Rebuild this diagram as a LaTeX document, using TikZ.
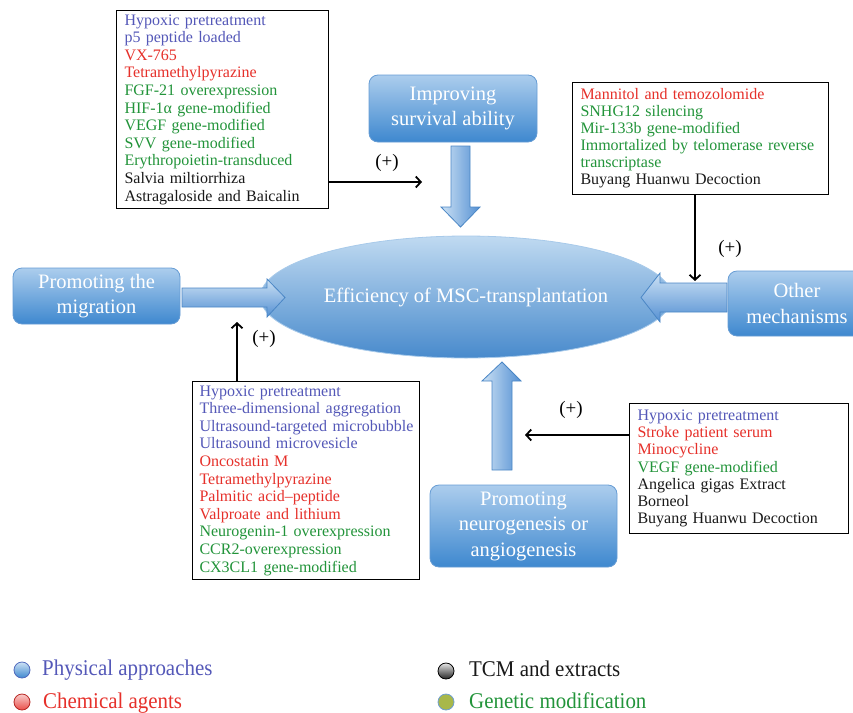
\documentclass[tikz,border=0pt]{standalone}
\usepackage{fontspec}
\setmainfont{Liberation Serif}
\newfontfamily\legendfont[FakeStretch=0.93]{Liberation Serif}
\usetikzlibrary{arrows.meta, positioning, shapes.geometric, calc}
\hyphenpenalty=10000
\exhyphenpenalty=10000

\definecolor{physc}{RGB}{84,88,184}
\definecolor{chemc}{RGB}{230,48,42}
\definecolor{genec}{RGB}{34,148,58}
\definecolor{tcmc}{RGB}{25,25,25}
\definecolor{boxtop}{RGB}{172,205,237}
\definecolor{boxbot}{RGB}{62,136,207}
\definecolor{boxline}{RGB}{102,156,212}
\definecolor{elltop}{RGB}{192,218,241}
\definecolor{ellbot}{RGB}{72,138,204}
\definecolor{arrlight}{RGB}{204,225,244}
\definecolor{arrdark}{RGB}{84,144,211}
\definecolor{arrline}{RGB}{74,134,197}

\tikzset{
  stepbox/.style={rounded corners=9pt, draw=boxline, line width=0.8pt, top color=boxtop, bottom color=boxbot, text=white, align=center, inner sep=2pt, font=\fontsize{20.5}{25.5}\selectfont},
  listbox/.style={draw=black, line width=1pt, fill=white, anchor=north west, align=left, inner xsep=8pt, inner ysep=2pt, font=\fontsize{16}{17.6}\selectfont},
  pluslabel/.style={font=\fontsize{19}{21}\selectfont},
  thinarrow/.style={line width=1.8pt, -{Straight Barb[length=5pt, width=11pt]}},
  blockv/.style={draw=arrline, line width=0.8pt, left color=arrlight, right color=arrdark},
  blockh/.style={draw=arrline, line width=0.8pt, top color=arrlight, bottom color=arrdark},
  legdot/.style={circle, minimum size=16pt, inner sep=0pt, line width=0.8pt},
  legendtext/.style={anchor=base west, inner sep=0pt, font=\legendfont\fontsize{22.5}{24}\selectfont}
}

\begin{document}
\begin{tikzpicture}[x=1pt, y=-1pt]
    \useasboundingbox (0,0) rectangle (853,712);
    \clip (0,0) rectangle (853,712);

    % Central ellipse
    \node[ellipse, draw=elltop!80!ellbot, line width=0.8pt, top color=elltop, bottom color=ellbot,
          minimum width=346pt, minimum height=122pt, text=white,
          font=\fontsize{20.5}{24}\selectfont] (eff) at (466,297) {Efficiency of MSC-transplantation};

    % Mechanism boxes
    \node[stepbox, minimum width=168pt, minimum height=67pt] (surv) at (453,108.5) {Improving\\survival ability};
    \node[stepbox, minimum width=167pt, minimum height=56pt] (migr) at (96.5,296) {Promoting the\\migration};
    \node[stepbox, minimum width=138pt, minimum height=65pt] (other) at (797,303.5) {Other\\mechanisms};
    \node[stepbox, minimum width=187pt, minimum height=82pt] (neuro) at (523.5,526) {Promoting\\neurogenesis or\\angiogenesis};

    % Block arrows into the ellipse
    \path[blockv] (451,146) -- (470,146) -- (470,207) -- (480,207) -- (460.5,227) -- (441,207) -- (451,207) -- cycle;
    \path[blockh] (182,288) -- (267,288) -- (267,279) -- (285,297.5) -- (267,317) -- (267,307) -- (182,307) -- cycle;
    \path[blockh] (727,283) -- (660,283) -- (660,273) -- (641,297.5) -- (660,322) -- (660,312) -- (727,312) -- cycle;
    \path[blockv] (492,470) -- (492,381) -- (482,381) -- (502,362) -- (521,381) -- (512,381) -- (512,470) -- cycle;

    % Survival ability list
    \node[listbox, text width=196pt, minimum height=198pt] (survlist) at (116,10) {%
        {\color{physc}Hypoxic pretreatment}\\
        {\color{physc}p5 peptide loaded}\\
        {\color{chemc}VX-765}\\
        {\color{chemc}Tetramethylpyrazine}\\
        {\color{genec}FGF-21 overexpression}\\
        {\color{genec}HIF-1α gene-modified}\\
        {\color{genec}VEGF gene-modified}\\
        {\color{genec}SVV gene-modified}\\
        {\color{genec}Erythropoietin-transduced}\\
        {\color{tcmc}Salvia miltiorrhiza}\\
        {\color{tcmc}Astragaloside and Baicalin}};

    % Other mechanisms list
    \node[listbox, text width=240pt, minimum height=112pt, font=\fontsize{16}{17}\selectfont] (otherlist) at (572,82) {%
        {\color{chemc}Mannitol and temozolomide}\\
        {\color{genec}SNHG12 silencing}\\
        {\color{genec}Mir-133b gene-modified}\\
        {\color{genec}Immortalized by telomerase reverse}\\
        {\color{genec}transcriptase}\\
        {\color{tcmc}Buyang Huanwu Decoction}};

    % Migration list
    \node[listbox, text width=213pt, minimum height=198pt, inner xsep=7pt] (migrlist) at (192,381) {%
        {\color{physc}Hypoxic pretreatment}\\
        {\color{physc}Three-dimensional aggregation}\\
        {\color{physc}\mbox{Ultrasound-targeted microbubble}}\\
        {\color{physc}Ultrasound microvesicle}\\
        {\color{chemc}Oncostatin M}\\
        {\color{chemc}Tetramethylpyrazine}\\
        {\color{chemc}Palmitic acid--peptide}\\
        {\color{chemc}Valproate and lithium}\\
        {\color{genec}Neurogenin-1 overexpression}\\
        {\color{genec}CCR2-overexpression}\\
        {\color{genec}CX3CL1 gene-modified}};

    % Neurogenesis list
    \node[listbox, text width=203pt, minimum height=130pt, font=\fontsize{16}{17.2}\selectfont] (neurolist) at (629,403) {%
        {\color{physc}Hypoxic pretreatment}\\
        {\color{chemc}Stroke patient serum}\\
        {\color{chemc}Minocycline}\\
        {\color{genec}VEGF gene-modified}\\
        {\color{tcmc}Angelica gigas Extract}\\
        {\color{tcmc}Borneol}\\
        {\color{tcmc}Buyang Huanwu Decoction}};

    % Thin arrows with (+)
    \coordinate (survtip) at (422,182);
    \coordinate (othertip) at (695,281);
    \coordinate (migrtip) at (237,322);
    \coordinate (neurotip) at (525,435);
    \draw[thinarrow] (survlist.east |- survtip) -- (survtip);
    \draw[thinarrow] (otherlist.south -| othertip) -- (othertip);
    \draw[thinarrow] (migrlist.north -| migrtip) -- (migrtip);
    \draw[thinarrow] (neurolist.west |- neurotip) -- (neurotip);
    \node[pluslabel] (survplus) at (387,163) {(+)};
    \node[pluslabel] (otherplus) at (730,249) {(+)};
    \node[pluslabel] (migrplus) at (264,339) {(+)};
    \node[pluslabel] (neuroplus) at (571,410) {(+)};

    % Legend
    \node[legdot, draw=physc!60!arrline, top color=arrlight, bottom color=boxbot] (physdot) at (22,670) {};
    \node[legdot, draw=chemc!80!black, top color=chemc!25, bottom color=chemc!85] (chemdot) at (22,702) {};
    \node[legdot, draw=black, top color=gray!20, bottom color=black!85] (tcmdot) at (446,671) {};
    \node[legdot, draw=arrline!80!white, fill={rgb,255:red,168;green,184;blue,74}] (genedot) at (446,702) {};
    \node[legendtext, text=physc] (physlab) at (42,675) {Physical approaches};
    \node[legendtext, text=chemc] (chemlab) at (43,708) {Chemical agents};
    \node[legendtext, text=tcmc] (tcmlab) at (469,676) {TCM and extracts};
    \node[legendtext, text=genec] (genelab) at (469,708) {Genetic modification};
\end{tikzpicture}
\end{document}
